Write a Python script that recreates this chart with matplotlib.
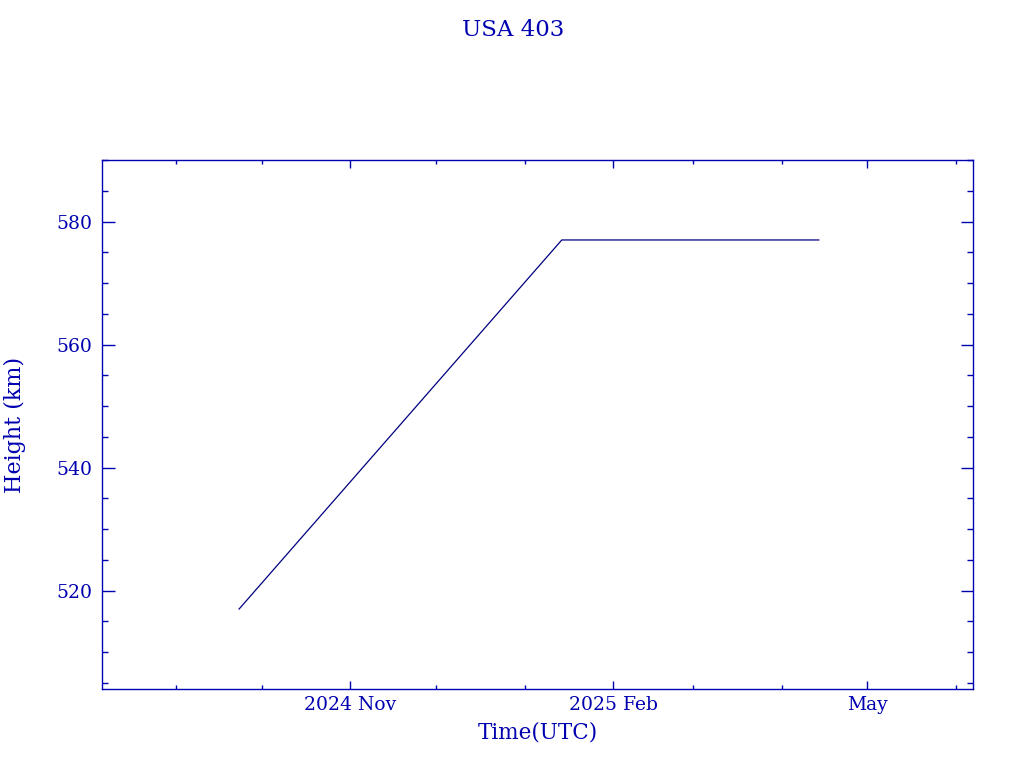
import matplotlib
matplotlib.use("Agg")
import matplotlib.pyplot as plt
import matplotlib.dates as mdates
from matplotlib.ticker import FixedLocator, MultipleLocator, FixedFormatter
import numpy as np

# Data
dates = ["2024-09-23", "2025-01-14", "2025-04-14"]
heights = [517, 577, 577]
major_tick_dates = ["2024-11-01", "2025-02-01", "2025-05-01"]
major_tick_labels = ["2024 Nov", "2025 Feb", "May"]
minor_tick_dates = ["2024-09-01", "2024-10-01", "2024-11-01", "2024-12-01",
                    "2025-01-01", "2025-02-01", "2025-03-01", "2025-04-01",
                    "2025-05-01", "2025-06-01"]
x_limits = ["2024-08-06", "2025-06-07"]
y_limits = [504, 590]
title = "USA 403"
xlabel = "Time(UTC)"
ylabel = "Height (km)"

col = "#0000b0"
line_col = "#000080"
font = "DejaVu Serif"

def d2n(lst):
    return mdates.date2num(np.array(lst, dtype="datetime64[D]"))

fig = plt.figure(figsize=(10.24, 7.68), dpi=100)
ax = fig.add_axes([102/1024, 1-689/768, (973-102)/1024, (689-160)/768])

ax.plot(d2n(dates), heights, color=line_col, lw=0.9)

ax.set_xlim(d2n(x_limits))
ax.set_ylim(y_limits)

ax.xaxis.set_major_locator(FixedLocator(d2n(major_tick_dates)))
ax.xaxis.set_major_formatter(FixedFormatter(major_tick_labels))
ax.xaxis.set_minor_locator(FixedLocator(d2n(minor_tick_dates)))
ax.yaxis.set_major_locator(MultipleLocator(20))
ax.yaxis.set_minor_locator(MultipleLocator(5))

ax.tick_params(axis="both", which="both", direction="in", top=True, right=True,
               color=col, labelcolor=col, width=1.0)
ax.tick_params(axis="x", which="major", length=6, pad=5)
ax.tick_params(axis="x", which="minor", length=3)
ax.tick_params(axis="y", which="major", length=9, pad=7)
ax.tick_params(axis="y", which="minor", length=4.5)
for lab in ax.get_xticklabels() + ax.get_yticklabels():
    lab.set_fontfamily(font)
    lab.set_fontsize(13.5)
for s in ax.spines.values():
    s.set_color(col)
    s.set_linewidth(1.0)

fig.text(513/1024, 1-30/768, title, ha="center", va="center", color=col,
         fontsize=16.5, family=font)
fig.text(537.5/1024, 1-732/768, xlabel, ha="center", va="center", color=col,
         fontsize=15.5, family=font)
fig.text(15/1024, 1-424.5/768, ylabel, ha="center", va="center", color=col,
         fontsize=16, family=font, rotation=90)

fig.savefig("out.png", dpi=100, facecolor="white")
